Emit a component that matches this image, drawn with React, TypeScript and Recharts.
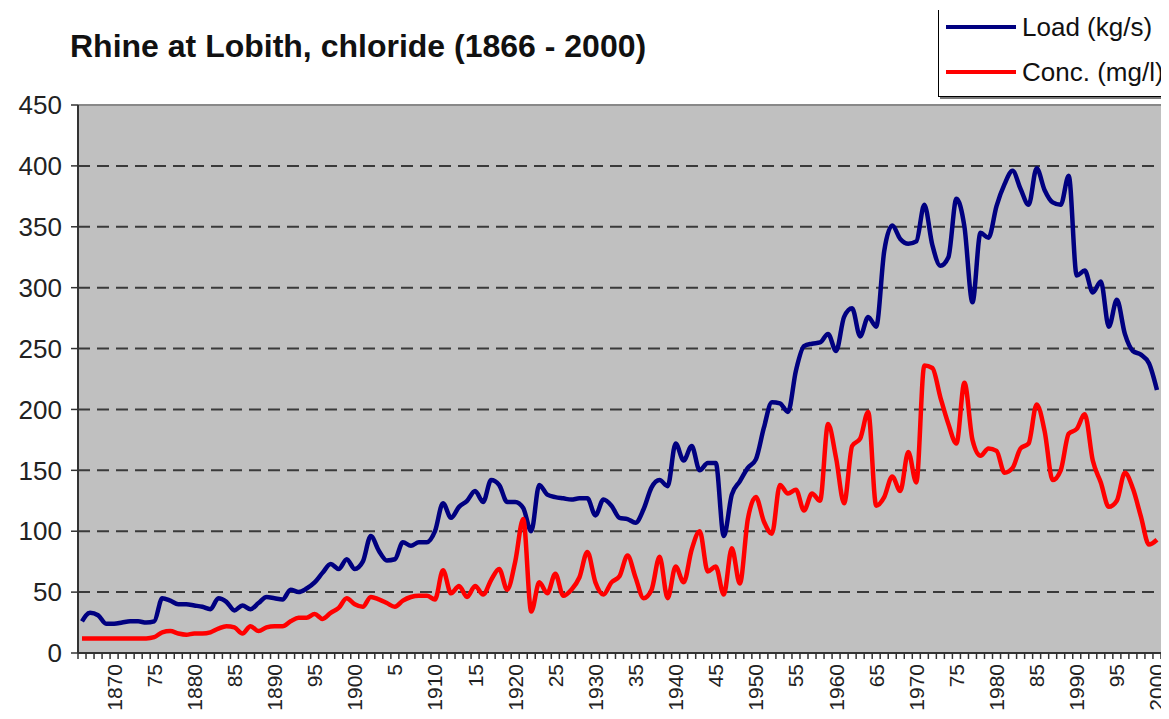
import { LineChart, Line, XAxis, YAxis, CartesianGrid, ReferenceLine, Legend } from "recharts";

const FIRST_YEAR = 1866;

// chloride load at Lobith, kg/s, 1866..2000
const loadKgS = [
  26, 33, 31, 24, 24, 25, 26, 26, 25, 26,
  45, 43, 40, 40, 39, 38, 36, 45, 42, 35,
  39, 36, 41, 46, 45, 44, 52, 50, 53, 58,
  66, 73, 69, 77, 69, 75, 96, 84, 76, 77,
  91, 88, 91, 91, 100, 123, 111, 120, 125, 133,
  124, 142, 138, 124, 124, 119, 100, 138, 130, 128,
  127, 126, 127, 127, 113, 126, 121, 111, 110, 107,
  118, 136, 142, 137, 172, 158, 170, 150, 156, 156,
  96, 130, 141, 152, 159, 185, 206, 205, 198, 232,
  252, 254, 255, 262, 248, 276, 283, 260, 276, 268,
  330, 351, 340, 336, 338, 368, 335, 318, 325, 373,
  350, 288, 345, 341, 367, 385, 396, 381, 368, 398,
  380, 370, 368, 392, 310, 314, 296, 305, 268, 290,
  262, 248, 245, 238, 216,
];

// chloride concentration, mg/l, 1866..2000
const concMgL = [
  12, 12, 12, 12, 12, 12, 12, 12, 12, 13,
  17, 18, 16, 15, 16, 16, 17, 20, 22, 21,
  16, 22, 18, 21, 22, 22, 26, 29, 29, 32,
  28, 33, 37, 45, 40, 38, 46, 44, 41, 38,
  43, 46, 47, 47, 44, 68, 49, 55, 46, 55,
  48, 60, 69, 52, 75, 110, 34, 58, 49, 65,
  47, 52, 62, 83, 58, 48, 58, 63, 80, 62,
  45, 52, 79, 45, 71, 58, 85, 100, 67, 71,
  48, 86, 57, 110, 128, 108, 98, 138, 131, 134,
  117, 131, 125, 188, 160, 123, 170, 176, 198, 121,
  128, 145, 133, 165, 140, 236, 234, 210, 188, 172,
  222, 175, 162, 168, 166, 148, 152, 168, 172, 204,
  182, 142, 150, 180, 184, 196, 158, 140, 120, 125,
  148, 135, 112, 89, 93,
];

const yTicks = [0, 50, 100, 150, 200, 250, 300, 350, 400, 450];

const data = loadKgS.map((load, i) => ({ year: FIRST_YEAR + i, load, conc: concMgL[i] }));
const yearTicks = data.map((d) => d.year);

const FONT = "'Liberation Sans', Arial, sans-serif";
const W = 1161;
const H = 711;
const MARGIN = { top: 97, right: 0, left: 0, bottom: 6 };
const Y_AXIS_W = 70;
// plot runs a bit past 2000, as the picture is cut at the right edge
const X_DOMAIN: [number, number] = [FIRST_YEAR - 0.5, FIRST_YEAR + yearTicks.length + 0.5];
const SLOT = (W - MARGIN.left - MARGIN.right - Y_AXIS_W) / (X_DOMAIN[1] - X_DOMAIN[0]);

function yearLabel(yr: number) {
  if (yr % 10 === 0) return String(yr);
  if (yr % 5 === 0) return String(yr % 100);
  return "";
}

function YearTick({ x, y, payload, index }: any) {
  const label = yearLabel(payload.value);
  const last = index === yearTicks.length - 1;
  return (
    <g>
      <line x1={x - SLOT / 2} x2={x - SLOT / 2} y1={y} y2={y + 6} stroke="#333" strokeWidth={1.5} />
      {last && <line x1={x + SLOT / 2} x2={x + SLOT / 2} y1={y} y2={y + 6} stroke="#333" strokeWidth={1.5} />}
      {label && (
        <text
          x={x}
          y={y + 11}
          transform={`rotate(-90, ${x}, ${y + 11})`}
          textAnchor="end"
          dominantBaseline="central"
          fontSize={21}
          fontFamily={FONT}
          fill="#222"
        >
          {label}
        </text>
      )}
    </g>
  );
}

function LegendBox() {
  const row = (color: string, text: string, mb: number) => (
    <div style={{ display: "flex", alignItems: "center", height: 30, marginBottom: mb }}>
      <span style={{ display: "inline-block", width: 70, height: 4, background: color }} />
      <span style={{ marginLeft: 6, fontSize: 26, color: "#111", whiteSpace: "nowrap" }}>{text}</span>
    </div>
  );
  return (
    <div
      style={{
        boxSizing: "border-box",
        width: 240,
        height: 87,
        padding: "2px 0 0 7px",
        background: "#fff",
        borderLeft: "1px solid #000",
        borderBottom: "1px solid #000",
        boxShadow: "2px 2px 0 #777",
        fontFamily: FONT,
      }}
    >
      {row("#000080", "Load (kg/s)", 15)}
      {row("#ff0000", "Conc. (mg/l)", 0)}
    </div>
  );
}

export default function App() {
  return (
    <div style={{ position: "relative", width: W, height: H, fontFamily: FONT }}>
      <div
        style={{
          position: "absolute",
          left: 62,
          top: 20,
          fontSize: 32,
          fontWeight: "bold",
          color: "#111",
          whiteSpace: "nowrap",
        }}
      >
        Rhine at Lobith, chloride (1866 - 2000)
      </div>
      <LineChart width={W} height={H} data={data} margin={MARGIN}>
        <CartesianGrid vertical={false} fill="#c0c0c0" stroke="#3a3a3a" strokeDasharray="12 7" strokeWidth={2} />
        <ReferenceLine y={450} stroke="#888" strokeWidth={2} />
        <XAxis
          dataKey="year"
          type="number"
          domain={X_DOMAIN}
          allowDataOverflow
          ticks={yearTicks}
          interval={0}
          tick={<YearTick />}
          tickLine={false}
          tickSize={0}
          tickMargin={0}
          height={60}
          axisLine={{ stroke: "#333", strokeWidth: 2 }}
        />
        <YAxis
          domain={[0, 450]}
          ticks={yTicks}
          interval={0}
          width={Y_AXIS_W}
          tick={{ fontSize: 26, fill: "#222", fontFamily: FONT }}
          tickLine={{ stroke: "#333", strokeWidth: 1.5 }}
          tickSize={7}
          tickMargin={9}
          axisLine={{ stroke: "#333", strokeWidth: 2 }}
        />
        <Legend
          layout="vertical"
          align="center"
          verticalAlign="middle"
          wrapperStyle={{ top: 2, left: 930, width: 240 }}
          content={() => <LegendBox />}
        />
        <Line
          type="monotone"
          dataKey="load"
          name="Load (kg/s)"
          stroke="#000080"
          strokeWidth={4.5}
          dot={false}
          isAnimationActive={false}
        />
        <Line
          type="monotone"
          dataKey="conc"
          name="Conc. (mg/l)"
          stroke="#ff0000"
          strokeWidth={4.5}
          dot={false}
          isAnimationActive={false}
        />
      </LineChart>
    </div>
  );
}
